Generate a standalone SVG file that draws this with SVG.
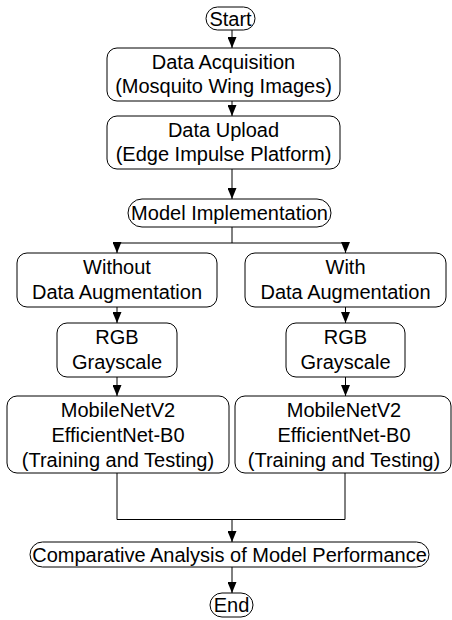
<svg xmlns="http://www.w3.org/2000/svg" width="452" height="620" viewBox="0 0 452 620">
<style>
.n{fill:#fff;stroke:#000;stroke-width:1}
.t{font-family:"Liberation Sans",Arial,Helvetica,sans-serif;font-size:20px;fill:#000;text-anchor:middle}
.c{fill:none;stroke:#000;stroke-width:1}
</style>
<defs>
<marker id="ah" markerWidth="11" markerHeight="9" refX="11" refY="4.5" orient="auto" markerUnits="userSpaceOnUse">
<path d="M0,0 L11,4.5 L0,9 Z" fill="#000"/>
</marker>
</defs>
<rect width="452" height="620" fill="#fff"/>
<g id="connectors">
<path class="c" d="M232,30 V48" marker-end="url(#ah)"/>
<path class="c" d="M232,101 V116" marker-end="url(#ah)"/>
<path class="c" d="M232,169 V199" marker-end="url(#ah)"/>
<path class="c" d="M232,227 V243"/>
<path class="c" d="M232,243 H117 V253" marker-end="url(#ah)"/>
<path class="c" d="M232,243 H345.5 V253" marker-end="url(#ah)"/>
<path class="c" d="M117,307 V323" marker-end="url(#ah)"/>
<path class="c" d="M345.5,307 V323" marker-end="url(#ah)"/>
<path class="c" d="M117,377 V396" marker-end="url(#ah)"/>
<path class="c" d="M345.5,377 V396" marker-end="url(#ah)"/>
<path class="c" d="M117,473 V519.5 H345 V473"/>
<path class="c" d="M232,519.5 V542" marker-end="url(#ah)"/>
<path class="c" d="M232,567 V593" marker-end="url(#ah)"/>
</g>
<g id="start">
<rect class="n" x="206" y="7" width="49" height="23" rx="11.5"/>
<text class="t" x="230.5" y="25.5">Start</text>
</g>
<g id="acquisition">
<rect class="n" x="107" y="48" width="233" height="53" rx="10"/>
<text class="t" x="223.5" y="68.5">Data Acquisition</text>
<text class="t" x="223.5" y="93">(Mosquito Wing Images)</text>
</g>
<g id="upload">
<rect class="n" x="107" y="116" width="233" height="53" rx="10"/>
<text class="t" x="223.5" y="136.5">Data Upload</text>
<text class="t" x="223.5" y="161">(Edge Impulse Platform)</text>
</g>
<g id="model">
<rect class="n" x="128" y="199" width="203" height="28" rx="14"/>
<text class="t" x="229.5" y="220">Model Implementation</text>
</g>
<g id="without">
<rect class="n" x="17" y="253" width="200" height="54" rx="10"/>
<text class="t" x="117" y="274">Without</text>
<text class="t" x="117" y="298.5">Data Augmentation</text>
</g>
<g id="with">
<rect class="n" x="245" y="253" width="201" height="54" rx="10"/>
<text class="t" x="345.5" y="274">With</text>
<text class="t" x="345.5" y="298.5">Data Augmentation</text>
</g>
<g id="rgb-left">
<rect class="n" x="57" y="323" width="120" height="54" rx="10"/>
<text class="t" x="117" y="344">RGB</text>
<text class="t" x="117" y="368.5">Grayscale</text>
</g>
<g id="rgb-right">
<rect class="n" x="286" y="323" width="119" height="54" rx="10"/>
<text class="t" x="345.5" y="344">RGB</text>
<text class="t" x="345.5" y="368.5">Grayscale</text>
</g>
<g id="models-left">
<rect class="n" x="7" y="396" width="222" height="77" rx="10"/>
<text class="t" x="118" y="417">MobileNetV2</text>
<text class="t" x="118" y="442">EfficientNet-B0</text>
<text class="t" x="118" y="467">(Training and Testing)</text>
</g>
<g id="models-right">
<rect class="n" x="235" y="396" width="216" height="77" rx="10"/>
<text class="t" x="344" y="417">MobileNetV2</text>
<text class="t" x="344" y="442">EfficientNet-B0</text>
<text class="t" x="344" y="467">(Training and Testing)</text>
</g>
<g id="comparative">
<rect class="n" x="30" y="542" width="399" height="25" rx="12.5"/>
<text class="t" x="229.5" y="561.5">Comparative Analysis of Model Performance</text>
</g>
<g id="end">
<rect class="n" x="210" y="593" width="43" height="24" rx="12"/>
<text class="t" x="231.5" y="612">End</text>
</g>
</svg>
